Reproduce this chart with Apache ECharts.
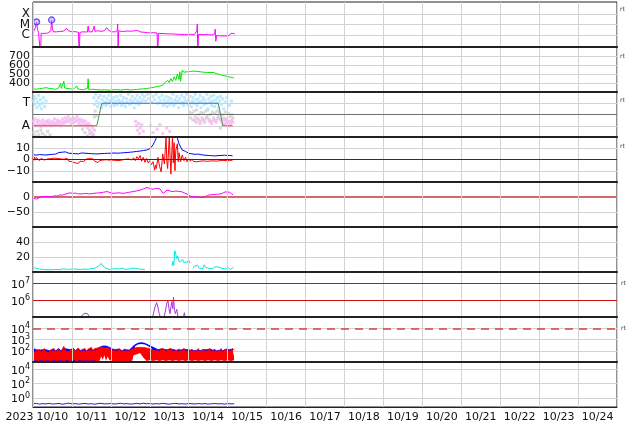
<!DOCTYPE html>
<html><head><meta charset="utf-8">
<script src="https://cdn.jsdelivr.net/npm/echarts@6/dist/echarts.min.js"></script>
<style>html,body{margin:0;padding:0;background:#fff}#c{width:634px;height:424px}</style>
</head><body><div id="c"></div><script>
// ---------- tick labels ----------
const yearLabel = '2023';
const dayLabels = ['10/10','10/11','10/12','10/13','10/14','10/15','10/16','10/17','10/18','10/19','10/20','10/21','10/22','10/23','10/24'];
const xrayClassLabels = {'-6':'C','-5':'M','-4':'X'};
const sectorLabels = {'-1':'A','1':'T'};

// ---------- data (x = hours since 2023-10-10 00:00) ----------
// Panel 1: GOES X-ray flux, log10(W/m2)
const xrayFlux = [[0,-5.8],[0.6,-5.75],[1.5,-5.3],[2.2,-4.76],[2.8,-5.5],[3.4,-5.75],[4.3,-5.85],[4.7,-8],[5.0,-5.85],[6,-5.8],[7,-5.85],[8,-5.78],[9,-5.82],[10,-5.75],[11,-5.6],[11.5,-4.57],[12,-5.4],[12.6,-5.7],[13.5,-5.62],[14.5,-5.7],[15.5,-5.6],[16.5,-5.66],[17.5,-5.58],[18.5,-5.65],[19.5,-5.55],[20.8,-5.38],[21.8,-5.6],[22.8,-5.65],[24,-5.7],[25,-5.72],[26,-5.68],[27,-5.75],[28,-5.75],[28.5,-8],[28.9,-5.75],[30,-5.72],[31,-5.7],[32,-5.74],[33.5,-5.72],[34,-5.15],[34.5,-5.7],[35.5,-5.66],[36.5,-5.7],[37.5,-5.62],[37.8,-5.15],[38.2,-5.65],[39,-5.7],[40,-5.6],[41,-5.55],[42,-5.65],[43,-5.68],[44,-5.6],[45,-5.52],[45.4,-5.3],[46,-5.4],[46.5,-5.35],[47,-5.6],[48,-5.68],[49,-5.7],[50,-5.66],[51,-5.7],[52,-5.5],[52.2,-4.95],[52.5,-8],[52.8,-5.6],[53.5,-5.62],[54.5,-5.66],[55.5,-5.7],[56.5,-5.65],[57.5,-5.68],[58.5,-5.62],[59.5,-5.66],[60.5,-5.64],[61.5,-5.7],[62.5,-5.6],[63.5,-5.65],[64.5,-5.58],[65.5,-5.68],[66.5,-5.72],[67.5,-5.7],[68.5,-5.74],[69.5,-5.72],[70.5,-5.78],[71.5,-5.76],[72.5,-5.8],[73.5,-5.82],[74.5,-5.78],[75.5,-5.84],[76.5,-5.82],[76.9,-8],[77.3,-5.85],[78.5,-5.84],[79.5,-5.86],[80.5,-5.82],[81.5,-5.88],[82.5,-5.85],[83.5,-5.9],[84.5,-5.86],[85.5,-5.9],[86.5,-5.88],[87.5,-5.92],[88.5,-5.9],[89.5,-5.94],[90.5,-5.92],[91.5,-5.95],[92.5,-5.93],[93.5,-5.96],[94.5,-5.94],[95.5,-5.95],[96.5,-5.97],[97.5,-5.94],[98.5,-5.96],[99.5,-5.95],[100.5,-5.97],[101,-5.6],[101.3,-4.95],[101.6,-8],[102,-5.96],[103,-5.98],[104,-5.95],[105,-6.0],[106,-5.97],[107,-6.0],[108,-5.98],[109,-6.02],[110,-6.0],[111,-6.02],[112,-5.9],[112.3,-5.45],[112.7,-6.6],[113.2,-6.05],[114,-6.05],[115,-6.08],[116,-6.06],[117,-6.1],[118,-6.08],[119,-6.1],[120,-6.07],[121,-6.05],[122,-5.85],[122.7,-5.72],[123.5,-5.85],[124.5,-5.9]];
const flareMarks = [[2.2,-4.76],[11.5,-4.57]];

// Panel 2: solar wind speed (km/s)
const windSpeed = [[0,335],[1,345],[2,330],[3,352],[4,338],[5,328],[6,342],[7,335],[8,348],[9,330],[10,340],[11,352],[12,336],[13,345],[14,330],[15,338],[16,348],[17,395],[17.5,340],[18,360],[19,420],[19.5,345],[20,365],[21,340],[22,355],[23,335],[24,348],[25,332],[26,340],[27,367],[27.5,335],[28,345],[29,330],[30,338],[31,325],[32,335],[33.6,340],[34,448],[34.3,330],[35,340],[36,330],[37,336],[38,328],[39,340],[40,325],[41,332],[42,322],[43,336],[44,325],[45,330],[46,322],[47,328],[48,320],[49,332],[50,326],[51,318],[52,325],[53,332],[54,322],[55,318],[56,326],[57,320],[58,330],[59,325],[60,322],[61,330],[62,326],[63,335],[64,328],[65,338],[66,332],[67,342],[68,336],[69,345],[70,338],[71,350],[72,345],[73,355],[74,350],[75,365],[76,358],[77,372],[78,365],[79,385],[80,375],[81,400],[82,385],[83,430],[84,405],[85,450],[86,415],[87,470],[88,430],[89,500],[90,440],[90.5,525],[91,420],[91.5,480],[92,545],[93,520],[94,535],[95,525],[96,540],[97,528],[98,520],[99,532],[100,520],[101,528],[102,515],[103,525],[104,514],[105,520],[106,512],[107,518],[108,510],[109,516],[110,512],[111,518],[112,510],[113,505],[114,500],[115,495],[116,490],[117,485],[118,480],[119,476],[120,470],[121,468],[122,462],[123,460],[124,455]];

// Panel 3: IMF sector (T = +1, A = -1)
const sectorLine = [[0,-1],[39.3,-1],[42.4,1],[114.2,1],[117,-1],[123.1,-1]];
const sectorColors = ['#e84040','#4c9a4c','#5060f0','#4c9a4c','#e84040'];
const towardPts = [[0.3,1.2],[0.8,1.6],[1.2,0.9],[1.7,1.4],[2.3,0.6],[2.8,1.1],[3.4,1.7],[4.0,0.8],[4.6,1.3],[5.2,0.5],[5.9,1.0],[6.5,1.5],[7.2,0.7],[8.0,1.2],[37.5,1.5],[38.0,0.9],[38.6,1.8],[39.2,1.2],[39.8,0.7],[40.3,1.5],[40.9,1.0],[41.5,1.7],[42.0,0.6],[42.6,1.3],[43.2,0.9],[43.8,1.6],[44.4,1.1],[45.0,0.8],[45.6,1.4],[46.2,1.0],[46.8,1.7],[47.4,1.2],[48.0,0.7],[48.6,1.3],[49.2,1.0],[49.8,1.5],[50.4,0.8],[51.0,1.2],[51.6,1.6],[52.2,0.9],[52.8,1.3],[53.4,1.1],[54.0,1.7],[54.6,0.8],[55.2,1.2],[55.8,1.5],[56.4,1.0],[57.0,0.7],[57.6,1.4],[58.2,1.1],[58.8,1.8],[59.4,0.9],[60.0,1.3],[60.6,1.0],[61.2,1.6],[61.8,1.2],[62.4,0.6],[63.0,1.4],[63.6,1.0],[64.2,1.7],[64.8,1.2],[65.4,0.9],[66.0,1.5],[66.6,1.1],[67.2,1.8],[67.8,1.3],[68.6,1.6],[69.5,1.2],[70.4,1.8],[71.3,1.4],[72.2,1.9],[73.1,1.1],[74.0,1.6],[75.0,1.3],[75.9,1.8],[76.8,1.0],[77.7,1.5],[78.6,1.2],[79.5,1.7],[80.2,0.8],[80.8,1.3],[81.4,1.0],[82.0,1.6],[82.6,0.7],[83.2,1.2],[83.8,1.5],[84.4,0.9],[85.0,1.4],[85.6,1.1],[86.2,1.8],[86.8,0.8],[87.4,1.3],[88.0,1.0],[88.6,1.6],[89.2,1.2],[89.8,0.6],[90.4,1.4],[91.0,1.0],[91.6,1.7],[92.2,1.1],[92.8,0.8],[93.4,1.5],[94.0,1.2],[94.6,1.8],[95.2,0.9],[95.8,1.3],[96.4,1.0],[97.0,1.6],[97.6,0.7],[98.2,1.2],[98.8,1.5],[99.4,1.0],[100.0,1.8],[100.6,1.3],[101.2,0.8],[101.8,1.4],[102.4,1.1],[103.0,1.7],[103.6,0.6],[104.2,1.2],[104.8,1.5],[105.4,0.9],[106.0,1.3],[106.6,1.0],[107.2,1.8],[107.8,0.5],[108.4,1.4],[109.0,1.1],[109.6,1.6],[110.2,0.8],[110.8,1.2],[111.4,1.7],[112.0,0.7],[112.6,1.3],[113.2,1.0],[113.8,1.5],[114.4,0.6],[115.0,1.2],[115.6,1.6],[116.2,0.9],[116.8,1.4],[117.6,0.5],[118.4,1.1],[119.5,1.5],[121.0,0.8],[122.3,1.2]];
const awayPts = [[0.2,-0.6],[0.7,-0.9],[1.3,-0.4],[1.9,-1.0],[2.5,-0.7],[3.1,-0.5],[3.7,-0.9],[4.3,-0.6],[4.9,-1.1],[5.5,-0.8],[6.1,-0.5],[6.7,-0.9],[7.3,-0.7],[7.9,-1.0],[8.5,-0.6],[9.1,-0.8],[9.7,-0.5],[10.3,-0.9],[10.9,-0.7],[11.5,-1.0],[12.1,-0.6],[12.7,-0.8],[13.3,-0.4],[13.9,-0.9],[14.5,-0.7],[15.1,-0.5],[15.7,-0.8],[16.3,-0.6],[16.9,-1.0],[17.5,-0.7],[18.1,-0.4],[18.7,-0.8],[19.3,-0.6],[19.9,-0.3],[20.5,-0.7],[21.1,-0.5],[21.7,-0.2],[22.3,-0.6],[22.9,-0.4],[23.5,-0.8],[24.1,-0.5],[24.7,-0.3],[25.3,-0.7],[25.9,-0.4],[26.5,-0.6],[27.1,-0.2],[27.7,-0.5],[28.3,-0.8],[28.9,-0.4],[29.5,-0.6],[30.1,-0.9],[30.7,-0.5],[31.3,-0.7],[31.9,-1.0],[32.5,-0.6],[33.1,-0.9],[33.7,-1.2],[34.3,-0.8],[34.9,-1.4],[35.5,-1.0],[36.1,-1.6],[36.7,-1.2],[37.3,-1.8],[37.9,-1.4],[63.2,-0.6],[63.8,-1.0],[64.4,-1.4],[65.0,-0.8],[65.6,-1.7],[66.2,-1.2],[67.0,-0.9],[68.0,-1.5],[72.6,-1.0],[74.0,-1.6],[76.5,-1.3],[78.2,-0.9],[80.0,-1.7],[82.5,-1.2],[84.3,-1.5],[99.5,-0.5],[100.6,-0.7],[101.8,-0.4],[103.0,-0.8],[104.4,-0.5],[105.8,-0.7],[107.0,-0.3],[108.6,-0.6],[110.0,-0.8],[111.4,-0.5],[112.8,-0.7],[114.0,-0.4],[115.5,-1.2],[116.2,-0.6],[116.9,-0.9],[117.6,-0.5],[118.3,-0.8],[119.0,-0.4],[119.7,-0.7],[120.4,-1.0],[121.1,-0.6],[121.8,-0.8],[122.5,-0.5],[123.2,-0.7]];
const mixedPts = [[0.5,-1.6],[1.5,-1.9],[2.6,-1.5],[3.6,-1.8],[4.8,-1.4],[6.0,-1.7],[7.5,-1.9],[9.0,-1.5],[10.5,-1.8],[30.5,-1.3],[32.0,-1.6],[33.5,-1.9],[35.0,-1.7],[36.5,-1.9],[37.8,-0.2],[38.4,0.3],[39.0,-0.1],[96.5,0.2],[97.2,-0.3],[97.9,0.1],[98.6,-0.5],[99.3,0.3],[100.0,-0.2],[100.8,0.4],[101.5,-0.4],[102.2,0.0],[102.9,-0.6],[103.6,0.2],[104.3,-0.3],[105.0,0.1],[105.7,-0.5],[106.4,0.3],[107.1,-0.2],[107.8,0.4],[108.5,-0.4],[109.2,0.0],[109.9,-0.6],[110.6,0.2],[111.3,-0.3],[112.0,0.1],[112.7,-0.5],[113.4,0.3],[114.1,-0.2],[114.8,0.2],[115.5,-0.4],[116.5,0.0],[117.5,-0.3],[118.5,0.2],[119.5,-0.5],[120.5,0.1],[121.5,-0.2],[122.5,0.0],[123.3,-0.3]];

// Panel 4: IMF Bt and Bz (nT)
const imfBt = [[0,4.5],[1,5.5],[2,3.8],[3,5.2],[4,4.4],[5,5.0],[6,4.2],[7,4.8],[8,4.0],[9,4.6],[10,4.3],[11,5.0],[12,4.6],[13,5.2],[14,4.8],[15,5.6],[16,6.2],[17,5.8],[18,6.5],[19,6.0],[20,6.8],[21,6.2],[22,5.6],[23,6.0],[24,5.4],[25,5.8],[26,5.2],[27,5.6],[28,5.0],[29,5.4],[30,5.8],[31,5.2],[32,5.6],[33,5.0],[34,5.4],[35,4.8],[36,5.2],[37,4.6],[38,5.0],[39,4.5],[40,5.0],[41,4.6],[42,5.2],[43,4.8],[44,5.4],[45,5.0],[46,5.5],[47,5.1],[48,5.6],[49,5.2],[50,5.8],[51,5.4],[52,5.6],[53,5.2],[54,5.8],[55,5.5],[56,6.0],[57,5.6],[58,6.2],[59,5.9],[60,6.5],[61,6.2],[62,6.8],[63,6.5],[64,7.2],[65,7.0],[66,7.5],[67,7.2],[68,8.0],[69,7.6],[70,8.4],[71,8.0],[72,9.5],[73,11],[74,13],[75,16],[76,19],[77,23],[78,21],[79,24],[80,22],[81,25],[82,23],[83,26],[84,24],[85,22],[86,25],[87,23],[88,21],[89,19],[90,14],[91,11],[92,8.5],[93,7],[94,7.2],[95,6.5],[96,5.5],[97,6.2],[98,5.0],[99,5.6],[100,4.6],[101,4.2],[102,4.8],[103,3.8],[104,4.2],[105,3.4],[106,3.8],[107,3.2],[108,3.6],[109,3.0],[110,3.4],[111,2.8],[112,3.2],[113,2.8],[114,3.4],[115,3.0],[116,3.6],[117,3.2],[118,3.8],[119,3.4],[120,3.6],[121,3.2],[122,3.5],[123,3.3]];
const imfBz = [[0,1.5],[0.5,-1],[1,2],[1.5,-0.5],[2,1.8],[3,0.5],[4,-1],[5,1],[6,0.2],[7,-0.5],[8,1.0],[9,0.5],[10,1.5],[11,0.8],[12,2.0],[13,1.2],[14,2.2],[15,1.0],[16,1.8],[17,0.6],[18,-1.0],[19,0.2],[20,-0.8],[21,1.0],[22,-1.5],[23,-0.5],[24,-2.0],[25,-1.2],[26,-3.0],[27,-2.0],[28,-3.4],[29,-1.5],[30,-0.5],[31,-1.8],[32,-0.6],[33,0.5],[34,-0.5],[35,0.8],[36,-0.8],[37,0.5],[38,-1.5],[39,-0.6],[40,-2.8],[41,-1.0],[42,0.5],[43,-0.5],[44,1.0],[45,-0.2],[46,0.8],[47,-0.5],[48,0.3],[49,-0.6],[50,0.5],[51,-0.8],[52,0.2],[53,-1.0],[54,0.6],[55,-0.4],[56,1.2],[57,0.2],[58,1.5],[59,0.5],[60,2.0],[61,-0.5],[62,1.5],[63,-1.0],[64,2.5],[65,0.5],[66,3.5],[67,-1.5],[68,2.0],[69,-2.5],[70,1.0],[71,-3.0],[72,-1.0],[73,-4.5],[74,-2.0],[75,-9.5],[75.5,-5],[76,-8],[77,2],[78,-6],[79,-11],[80,5],[81,-4],[82,20],[82.5,-2],[83,-8],[84,21],[84.5,3],[85,-13],[86,21],[86.5,-3],[87,15],[87.5,-10],[88,8],[89,14],[89.5,-2],[90,6],[91,-2],[92,4],[93,-1],[94,2],[95,-2],[96,1],[97,-1.5],[98,0.5],[99,-1.8],[100,-0.5],[101,-2],[102,-0.8],[103,-1.5],[104,0.2],[105,-1.2],[106,-0.4],[107,-1.6],[108,-0.6],[109,-1.4],[110,0],[111,-1.2],[112,-0.5],[113,-1.5],[114,-0.3],[115,-1.0],[116,0.2],[117,-0.8],[118,-0.2],[119,-1.0],[120,-0.4],[121,-0.9],[122,-0.2],[123,-0.6]];

// Panel 5: Dst (nT)
const dstIndex = [[0,-4],[1,-5],[2.3,-7],[3.5,-3],[5,1],[6.2,3],[7.5,1],[9,2],[10.5,0],[12,2],[13.5,4],[15,3],[16.6,7],[18,6],[19.5,9],[21,11],[22.8,14],[24.5,12],[26,13],[27.5,11],[29,10],[31,11],[33,12],[35,10],[37,12],[39,13],[41.3,14],[43.5,16],[45.6,18],[47.5,15],[49.3,12],[51,13],[53,14],[55.5,12],[57.5,14],[59.5,16],[61.7,18],[63.8,20],[66,23],[68,27],[70.3,32],[71.5,30],[72.5,27],[74,26],[75.5,29],[77,28],[78.3,27],[79.2,20],[80.2,12],[81.2,17],[82.6,23],[84.5,20],[86.3,18],[88,20],[89.5,19],[90.6,21],[92,17],[93.5,13],[95,10],[96.8,3],[99,1],[101,0],[103,-1],[104.8,-2],[106,1],[107.5,5],[109,7],[111,8],[113,9],[115.3,10],[117,13],[118.5,17],[119.6,20],[121,16],[122.3,11],[123.3,7]];

// Panel 6: proton density (/cc)
const density = [[0,6],[1,8],[2,5],[3,7],[4,4],[5,6],[6,3.5],[7,5],[8,3],[9,4],[10,3],[11,4.5],[12,3],[13,4],[14,3.5],[15,4],[16,3],[17,5],[18,4],[19,6.5],[20,4],[21,5],[22,3.5],[23,5],[24,4],[25,5.5],[26,4],[27,5],[28,3.5],[29,4.5],[30,3.5],[31,5],[32,4],[33,4.5],[34,3.5],[35,4],[36,4.5],[37,3.5],[38,5],[39,6],[40,7],[41,9],[42,11.5],[43,8],[44,6],[45,5],[46,4.5],[47,3.5],[48,5],[49,4],[50,3],[51,4.5],[52,3],[53,4],[54,3.5],[55,5],[56,4],[57,3.5],[58,5],[59,4],[60,6.5],[61,5],[62,6],[63,5],[64,4.5],[65,4],[66,5],[67,3.5],[68,4.5],[69,3.5],[70,null],[85.7,8],[86.2,14],[86.8,9],[87.4,28.5],[88,24],[88.6,18],[89.2,21],[89.8,16],[90.4,13],[91,15],[91.6,11],[92.2,17],[92.8,13],[93.4,15],[94,12],[95,13],[96,16],[96.5,12],[97,null],[98.7,5],[99.5,8],[100.5,6],[101.5,9],[102.5,5],[103.5,7],[104.5,4],[105.5,9.5],[106.5,6],[107.5,4],[108.5,5],[109.5,3.5],[110.5,4.5],[111.5,5.5],[112.5,7],[113.5,5],[114.5,6.5],[115.5,8],[116.5,5],[117.5,7],[118.5,4],[119.5,3.5],[120.5,6],[121.5,3],[122.5,5],[123.5,6.5]];

// Panel 7: electron flux, log10
const electronFlux = [[0,4.6],[28,4.7],[30,5.05],[31.5,5.22],[32.5,5.3],[33.5,5.2],[35,5.0],[37,4.7],[64,4.8],[64.5,5.02],[65,4.8],[72,4.7],[74,5.1],[75.2,5.6],[76.2,5.86],[77,5.6],[77.8,5.2],[78.5,5.0],[80.5,4.9],[81.5,5.3],[82.5,5.85],[83.2,5.98],[83.8,5.5],[84.5,5.2],[85,5.6],[85.6,5.92],[86.2,5.5],[86.6,6.18],[87.2,5.4],[87.8,5.2],[88.6,5.46],[89.3,5.05],[90,4.8],[92.6,4.9],[93.3,5.26],[94,4.9],[96,4.6],[124,4.6]];
const electronLevels = [7, 6];

// Panel 8: hourly envelopes, log10 (index = hour 0..124)
const blueLo = [
  1.1,1.2,1.1,1.15,1.1,1.2,1.1,1.15,1.1,1.2,
  1.1,1.15,1.1,1.2,1.1,1.15,1.1,1.2,1.1,1.15,
  1.1,1.2,1.1,1.15,1.1,1.2,1.1,1.15,1.1,1.2,
  1.1,1.15,1.1,1.2,1.1,1.15,1.1,1.2,1.1,1.15,
  1.1,2.05,2.15,2.2,2.22,2.2,2.15,2.1,2.0,1.4,
  1.1,1.2,1.1,1.15,1.1,1.2,1.1,1.15,1.1,1.2,
  1.1,1.15,2.33,2.43,2.51,2.58,2.61,2.61,2.59,2.55,
  2.48,2.41,2.33,2.24,1.9,1.5,1.2,1.1,1.15,1.1,
  1.2,1.1,1.15,1.1,1.2,1.1,1.15,1.1,1.2,1.1,
  1.15,1.1,1.2,1.1,1.15,1.1,1.2,1.1,1.15,1.1,
  1.2,1.1,1.15,1.1,1.2,1.1,1.15,1.1,1.2,1.1,
  1.15,1.1,1.2,1.1,1.15,1.1,1.2,1.1,1.15,1.1,
  1.2,1.1,1.15,1.1,1.2];
const blueHi = [
  2.2,2.25,2.1,2.2,2.05,2.15,2.1,2.0,2.1,2.15,
  2.0,2.1,2.05,2.15,2.0,2.1,2.2,2.0,2.1,2.2,
  2.05,2.15,2.0,2.1,2.05,2.2,2.0,2.1,2.2,2.0,
  2.1,2.05,2.15,2.0,2.1,2.1,2.2,2.05,2.15,2.1,
  2.2,2.3,2.38,2.42,2.44,2.42,2.38,2.32,2.25,2.15,
  2.05,2.1,2.0,2.15,2.05,2.0,2.1,2.05,2.1,2.0,
  2.1,2.3,2.45,2.55,2.62,2.68,2.72,2.72,2.7,2.66,
  2.6,2.52,2.45,2.38,2.3,2.25,2.2,2.1,2.0,2.15,
  2.05,2.1,2.0,2.1,2.05,2.15,2.0,2.1,2.05,2.0,
  2.1,2.05,2.0,2.15,2.05,2.1,2.0,2.05,2.1,2.0,
  2.1,2.05,2.15,2.0,2.1,2.1,2.0,2.1,2.05,2.15,
  2.0,2.05,2.1,2.0,2.1,2.05,2.15,2.0,2.1,2.15,
  2.0,2.1,2.05,2.15,2.1];
const redLo = [
  1.05,1.15,1.05,1.1,1.05,1.15,1.05,1.1,1.05,1.15,
  1.05,1.1,1.05,1.15,1.05,1.1,1.05,1.15,1.05,1.1,
  1.05,1.15,1.05,1.1,1.05,1.15,1.05,1.1,1.05,1.15,
  1.05,1.1,1.05,1.15,1.05,1.1,1.05,1.15,1.05,1.1,
  1.05,1.1,1.5,1.2,1.6,1.1,1.5,1.2,1.1,1.05,
  1.15,1.05,1.1,1.05,1.15,1.05,1.1,1.05,1.15,1.05,
  1.1,1.05,1.6,1.8,1.7,1.9,1.8,1.6,1.4,1.2,
  1.1,1.05,1.15,1.05,1.1,1.05,1.15,1.05,1.1,1.05,
  1.15,1.05,1.1,1.05,1.15,1.05,1.1,1.05,1.15,1.05,
  1.1,1.05,1.15,1.05,1.1,1.05,1.15,1.05,1.1,1.05,
  1.15,1.05,1.1,1.05,1.15,1.05,1.1,1.05,1.15,1.05,
  1.1,1.05,1.15,1.05,1.1,1.05,1.15,1.05,1.1,1.05,
  1.15,1.05,1.1,1.05,1.15];
const redHi = [
  2.0,1.8,2.1,1.9,2.15,1.85,2.0,2.2,1.9,2.05,
  1.8,2.1,1.95,2.2,1.9,2.05,2.15,1.85,2.1,2.4,
  2.0,2.15,1.9,2.1,2.0,2.2,1.95,2.05,2.25,1.9,
  2.1,2.0,2.2,1.95,2.15,2.05,2.3,2.0,2.2,2.1,
  2.25,2.3,2.35,2.3,2.25,2.35,2.3,2.2,2.1,2.15,
  2.0,2.1,1.95,2.2,2.05,1.9,2.15,2.0,2.1,1.95,
  2.05,2.15,2.2,2.25,2.3,2.35,2.3,2.25,2.3,2.2,
  2.25,2.15,2.2,2.1,2.05,2.15,2.0,2.1,1.95,2.2,
  2.05,2.15,1.9,2.1,2.0,2.2,1.95,2.1,2.0,1.9,
  2.15,2.05,1.95,2.2,2.0,2.1,1.9,2.05,2.15,1.95,
  2.1,2.0,2.2,1.9,2.05,2.15,1.95,2.1,2.0,2.2,
  1.9,2.05,2.15,1.95,2.1,2.0,2.2,1.9,2.05,2.15,
  1.95,2.1,2.0,2.2,2.05];
const thresholdLevel = 4;

// Panel 9: log10 flux
const lowFlux = [[0,-0.8],[2,-0.75],[4,-0.85],[6,-0.78],[8,-0.82],[10,-0.74],[12,-0.84],[14,-0.8],[16,-0.76],[18,-0.86],[20,-0.8],[22,-0.72],[24,-0.82],[26,-0.78],[28,-0.85],[30,-0.8],[32,-0.75],[34,-0.83],[36,-0.79],[38,-0.86],[40,-0.78],[42,-0.74],[44,-0.82],[46,-0.8],[48,-0.76],[50,-0.84],[52,-0.79],[54,-0.73],[56,-0.82],[58,-0.78],[60,-0.85],[62,-0.8],[64,-0.75],[66,-0.82],[68,-0.72],[70,-0.8],[72,-0.76],[74,-0.84],[76,-0.78],[78,-0.82],[80,-0.74],[82,-0.8],[84,-0.86],[86,-0.78],[88,-0.75],[90,-0.82],[92,-0.79],[94,-0.84],[96,-0.76],[98,-0.8],[100,-0.83],[102,-0.77],[104,-0.82],[106,-0.78],[108,-0.85],[110,-0.8],[112,-0.76],[114,-0.82],[116,-0.79],[118,-0.84],[120,-0.78],[122,-0.81],[124,-0.8]];

// per-panel y ranges and tick values
const yRanges = [[-7.15,-2.85],[300,800],[-2,2],[-20,20],[-100,50],[0,60],[5,7.7],[1,5],[-1.25,5]];
const yTicks = [[-6,-5,-4],[400,500,600,700],[-1,1],[-10,0,10],[-50,0],[20,40],[6,7],[2,3,4],[0,2,4]];

// ---------- chart ----------
const FONT = 'DejaVu Sans';
const GRID_C = '#d2d2d2';
const N = 9;
const grids = [], xAxes = [], yAxes = [], series = [];
for (let i = 0; i < N; i++) {
  grids.push({left:33, right:17, top:2 + 45*i, height:45, show:true, borderColor:'#222', borderWidth:1, containLabel:false, outerBoundsMode:'none'});
  xAxes.push({type:'value', gridIndex:i, min:0, max:360, interval:24,
    axisLabel:{show:false}, axisTick:{show:false},
    splitLine:{show:true, lineStyle:{color:GRID_C, width:1}},
    axisLine:{show:true, onZero:false, lineStyle:{color:'#222', width: i < N-1 ? 2.2 : 1}}, z:5});
}
xAxes.push({type:'value', gridIndex:N-1, min:0, max:360, interval:12, position:'bottom',
  axisLine:{show:false}, axisTick:{show:false}, splitLine:{show:false},
  axisLabel:{show:true, margin:5, fontFamily:FONT, fontSize:11, color:'#111', showMaxLabel:false, hideOverlap:false,
    formatter:function(v){ if (v === 0) return '{y|' + yearLabel + '}'; if (v % 24 === 12) return dayLabels[(v-12)/24] || ''; return ''; },
    rich:{y:{fontFamily:FONT, fontSize:11, color:'#111', padding:[0,27,0,0]}}}});

const pow = v => '{b|10}{e|' + v + '}';
const powRich = {b:{fontFamily:FONT, fontSize:11, color:'#111', lineHeight:10, padding:[3,0,0,0]},
                 e:{fontFamily:FONT, fontSize:8, color:'#111', lineHeight:10, padding:[0,0,5,0]}};
const num = v => v < 0 ? '\u2212' + Math.abs(v) : String(v);
const formatters = [v => xrayClassLabels[String(v)] || '', num, v => sectorLabels[String(v)] || '', num, num, num, pow, pow, pow];
// one y axis per tick label (avoids automatic overlap hiding); first one of each panel carries the series
const mainY = [];
for (let i = 0; i < N; i++) {
  const isPow = i >= 6;
  yTicks[i].forEach((t, j) => {
    if (j === 0) mainY[i] = yAxes.length;
    yAxes.push({type:'value', gridIndex:i, min:yRanges[i][0], max:yRanges[i][1], position:'left', offset:0,
      axisLine:{show: j === 0, lineStyle:{color:'#222'}},
      axisTick:{show:false, customValues:[t]},
      splitLine:{show:false},
      axisLabel:{customValues:[t], formatter:formatters[i], rich: isPow ? powRich : undefined, hideOverlap:false,
        showMinLabel:true, showMaxLabel:true,
        margin:3, fontFamily:FONT, fontSize:(i === 0 || i === 2) ? 12 : 11, color:'#111'}});
  });
  series.push({type:'line', xAxisIndex:i, yAxisIndex:mainY[i], data:[], silent:true, z:1,
    markLine:{silent:true, z:1, symbol:['none','none'], label:{show:false}, animation:false,
      lineStyle:{color:GRID_C, width:1, type:'solid'}, data:yTicks[i].map(v => ({yAxis:v}))}});
}

function line(i, data, color, extra) {
  return Object.assign({type:'line', xAxisIndex:i, yAxisIndex:mainY[i], data:data, symbol:'none', showSymbol:false,
    lineStyle:{color:color, width:1}, itemStyle:{color:color}, animation:false, z:3, clip:true}, extra || {});
}
function scat(i, data, color, size, extra) {
  return Object.assign({type:'scatter', xAxisIndex:i, yAxisIndex:mainY[i], data:data, symbol:'rect', symbolSize:size,
    itemStyle:{color:color}, animation:false, z:2}, extra || {});
}
function hline(val, color, width, type, label) {
  const d = {yAxis:val, lineStyle:{color:color, width:width, type:type||'solid'}};
  if (label) d.label = {show:true, position:'end', formatter:label, fontFamily:FONT, fontSize:6, color:'#444', distance:4};
  return d;
}
function marks(lines) {
  return {silent:true, symbol:['none','none'], label:{show:false}, animation:false, data:lines};
}

// Panel 1
series.push(line(0, xrayFlux, '#ff00ff'));
series.push(scat(0, flareMarks, 'rgba(230,120,255,0.55)', 6, {symbol:'circle', z:4,
  itemStyle:{color:'rgba(230,120,255,0.55)', borderColor:'#2f3cff', borderWidth:1.4}}));
// Panel 2
series.push(line(1, windSpeed, '#00e600'));
// Panel 3
series.push(scat(2, mixedPts, '#cfcfcf', 3));
series.push(scat(2, awayPts, '#f7b4f0', 3));
series.push(scat(2, towardPts, '#ace4fb', 3, {markLine: marks([hline(0, '#707070', 1)])}));
for (let k = 0; k < sectorLine.length - 1; k++) {
  series.push(line(2, [sectorLine[k], sectorLine[k+1]], sectorColors[k], {z:4}));
}
// Panel 4
series.push(line(3, imfBt, '#0000ff', {markLine: marks([hline(0, '#a00000', 1)])}));
series.push(line(3, imfBz, '#ff0000', {z:4}));
// Panel 5
series.push(line(4, dstIndex, '#ff00ff', {z:4, markLine: Object.assign(marks([hline(0, '#d06a6a', 2)]), {z:2})}));
// Panel 6
series.push(line(5, density, '#00e8e8'));
// Panel 7
series.push(line(6, electronFlux, '#a638d8', {markLine: marks([hline(electronLevels[0], '#c81010', 1, 'solid', 'rt'), hline(electronLevels[1], '#c81010', 1)])}));
// Panel 8 bands (value dimension first so that stacking acts on y)
const bandEnc = {x:1, y:0};
const nB = Math.min(blueLo.length, blueHi.length), nR = Math.min(redLo.length, redHi.length);
series.push(line(7, blueLo.slice(0, nB).map((v,h) => [v, h]), '#0000ff', {encode:bandEnc, stack:'blue', lineStyle:{width:0, opacity:0}}));
series.push(line(7, blueHi.slice(0, nB).map((v,h) => [v - blueLo[h], h]), '#0000ff', {encode:bandEnc, stack:'blue', lineStyle:{width:0.8, color:'#0000ff'}, areaStyle:{color:'#0000ff', opacity:1}}));
series.push(line(7, redLo.slice(0, nR).map((v,h) => [v, h]), '#ff0000', {encode:bandEnc, stack:'red', lineStyle:{width:0, opacity:0}}));
series.push(line(7, redHi.slice(0, nR).map((v,h) => [v - redLo[h], h]), '#ff0000', {encode:bandEnc, stack:'red', lineStyle:{width:0.8, color:'#ff0000'}, areaStyle:{color:'#ff0000', opacity:1},
  markLine: marks([hline(thresholdLevel, '#dd4040', 1.5, [8,6], 'rt')])}));
// Panel 9
series.push(line(8, lowFlux, '#1a1aff'));

const rtY = [10, 57, 101, 147];
const graphics = rtY.map(y => ({type:'text', left:620, top:y - 4, silent:true, style:{text:'rt', font:'6px "DejaVu Sans"', fill:'#444'}}));

const chart = echarts.init(document.getElementById('c'), null, {renderer:'canvas'});
chart.setOption({animation:false, backgroundColor:'#fff', grid:grids, xAxis:xAxes, yAxis:yAxes, series:series, graphic:graphics});
</script></body></html>
